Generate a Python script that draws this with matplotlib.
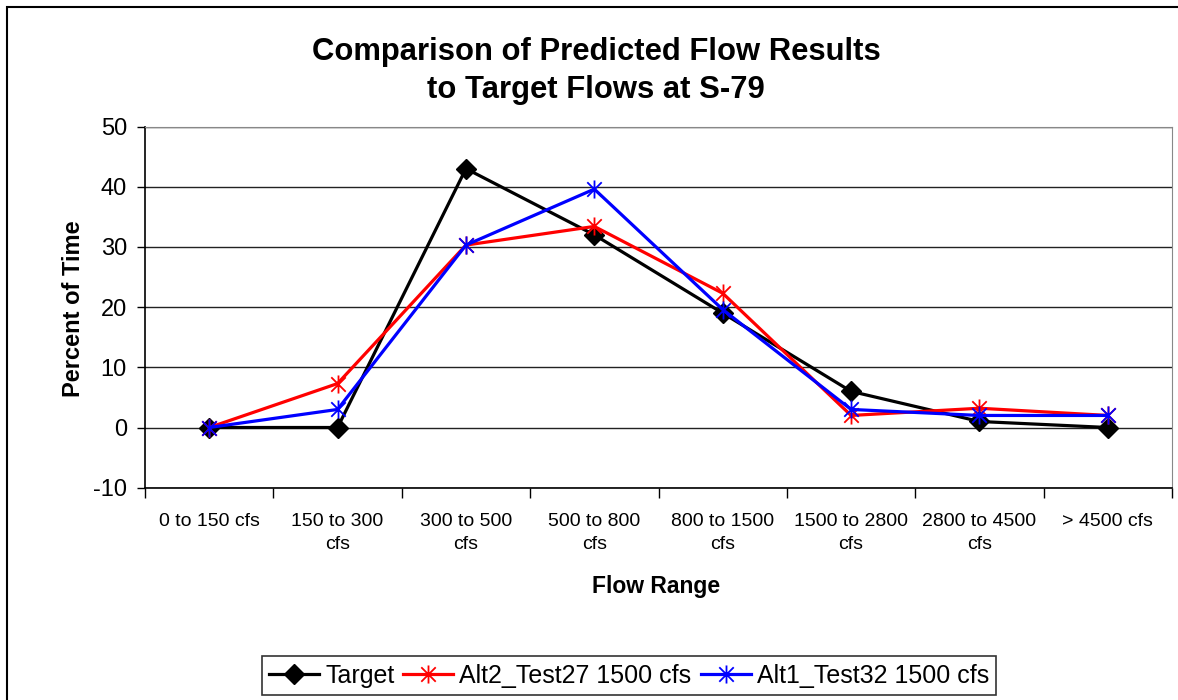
import numpy as np
import matplotlib.pyplot as plt
from matplotlib.path import Path
from matplotlib.patches import Rectangle

# data
categories = ['0 to 150 cfs', '150 to 300\ncfs', '300 to 500\ncfs', '500 to 800\ncfs',
              '800 to 1500\ncfs', '1500 to 2800\ncfs', '2800 to 4500\ncfs', '> 4500 cfs']
target = [0, 0, 43, 32, 19, 6, 1, 0]
alt2 = [0, 7.3, 30.3, 33.4, 22.3, 2.0, 3.2, 2.0]
alt1 = [0, 3.0, 30.3, 39.6, 19.6, 3.0, 2.0, 2.0]
yticks = [-10, 0, 10, 20, 30, 40, 50]

plt.rcParams['font.family'] = ['Liberation Sans', 'DejaVu Sans']
plt.rcParams['axes.unicode_minus'] = False

# excel style asterisk: vertical bar + X
star = Path([(0, -1), (0, 1), (-0.8, -0.8), (0.8, 0.8), (-0.8, 0.8), (0.8, -0.8)],
            [Path.MOVETO, Path.LINETO, Path.MOVETO, Path.LINETO, Path.MOVETO, Path.LINETO])

fig = plt.figure(figsize=(11.78, 7), dpi=100)
fig.patch.set_facecolor('white')
ax = fig.add_axes([145 / 1178, 1 - 487.7 / 700, 1027 / 1178, 361.2 / 700])

x = np.arange(len(categories))
ax.plot(x, target, color='black', lw=2.3, marker='D', ms=10, label='Target')
ax.plot(x, alt2, color='red', lw=2.3, marker=star, ms=13, mfc='none', mew=1.3,
        label='Alt2_Test27 1500 cfs')
ax.plot(x, alt1, color='blue', lw=2.3, marker=star, ms=13, mfc='none', mew=1.3,
        label='Alt1_Test32 1500 cfs')

ax.set_xlim(-0.5, len(categories) - 0.5)
ax.set_ylim(-10, 50)
ax.set_yticks(yticks)
ax.tick_params(axis='y', labelsize=17, length=6, width=1, pad=7)
ax.set_xticks(x)
ax.set_xticklabels(categories, fontsize=14, linespacing=1.45)
ax.set_xticks(np.arange(len(categories) + 1) - 0.5, minor=True)
ax.tick_params(axis='x', which='major', length=0, pad=18)
ax.tick_params(axis='x', which='minor', length=7, width=1)

ax.grid(axis='y', color='#222222', lw=1)
ax.set_axisbelow(True)
ax.spines['top'].set_color('#888888')
ax.spines['right'].set_color('#888888')
ax.spines['left'].set_linewidth(1.2)
ax.spines['bottom'].set_linewidth(1.2)

fig.text(596 / 1178, 1 - 71 / 700, 'Comparison of Predicted Flow Results\nto Target Flows at S-79',
         ha='center', va='center', fontsize=22.3, fontweight='bold', linespacing=1.35)
fig.text(73 / 1178, 1 - 309 / 700, 'Percent of Time', rotation=90, ha='center', va='center',
         fontsize=17, fontweight='bold')
fig.text(656 / 1178, 1 - 586 / 700, 'Flow Range', ha='center', va='center',
         fontsize=16.5, fontweight='bold')

leg = fig.legend(loc='center', bbox_to_anchor=(629 / 1178, 1 - 675.7 / 700), ncol=3,
                 prop={'size': 18}, frameon=True, fancybox=False, edgecolor='black',
                 handlelength=2.0, handletextpad=0.24, columnspacing=0.36,
                 borderpad=0.3, borderaxespad=0)
leg.get_frame().set_linewidth(1.2)

fig.add_artist(Rectangle((7 / 1178, -0.1), 2, 1.1 - 7 / 700, transform=fig.transFigure,
                         fill=False, edgecolor='black', lw=1.5))

fig.savefig('out.png', dpi=100)
